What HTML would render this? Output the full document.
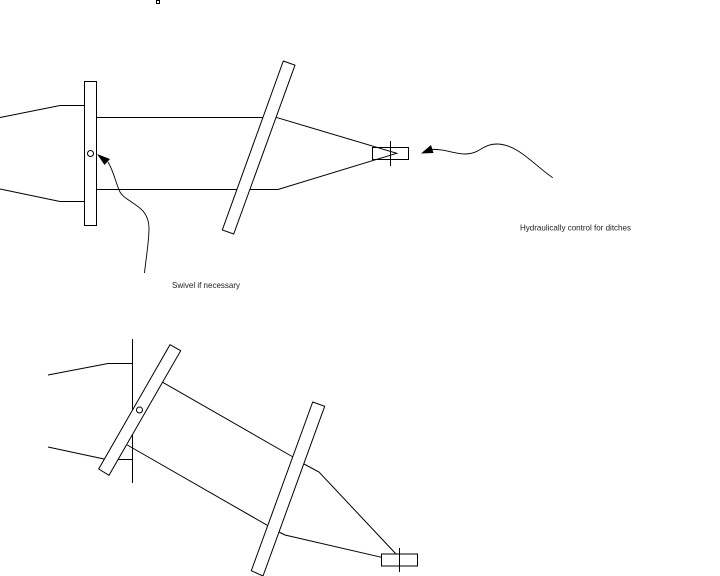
<!DOCTYPE html>
<html><head><meta charset="utf-8"><style>
html,body{margin:0;padding:0;background:#fff}
svg{display:block}
text{font-family:"Liberation Sans",sans-serif;font-size:8.5px;fill:#222}
</style></head><body>
<svg width="720" height="576" viewBox="0 0 720 576" xmlns="http://www.w3.org/2000/svg">
<g fill="none" stroke="#000" stroke-width="1">
<rect x="156.5" y="0.5" width="3" height="3"/>
<!-- top diagram -->
<path d="M0 117.5L60 105.5H84.5M0 189L60 201.5H84.5"/>
<path d="M96.5 117.5H264M96.5 189.5H278L396.7 153.3L276 117.3"/>
<rect x="84.5" y="81.5" width="12" height="144" fill="#fff"/>
<circle cx="90.5" cy="153.5" r="3"/>
<path fill="#fff" d="M283.3 61L295 65.2L233.7 234L222.3 230Z"/>
<rect x="372.5" y="147.5" width="36" height="12"/>
<path d="M390.5 141V166"/>
<path stroke-width="0.9" d="M144.5 273C146 258 149 242 149 228C149 205 126 203 120 192C116 184 114 172 108 162"/>
<path stroke-width="0.9" d="M552.7 177.7C535 166 518 144 496.7 144C483 144 479 154 466 154C453 154 446 148.5 428 149.5"/>
<!-- bottom diagram -->
<path d="M132.5 339V483M48 375L108 363.5H132.5M48 447L104 459M118 459.5H132.5"/>
<path d="M162.7 382.3L293 457M127.3 445L267.3 525.3"/>
<path d="M304 464L319 472L396 554M279 532L285 535L381.5 557.3"/>
<path fill="#fff" d="M170 344.7L180.7 350.7L109 475.3L98.7 469Z"/>
<circle cx="139.5" cy="410" r="3"/>
<path fill="#fff" d="M312.7 402L324.7 406.3L263 576L251.3 570.7Z"/>
<rect x="381.5" y="554" width="36" height="12"/>
<path d="M399.5 548V572"/>
</g>
<path fill="#000" d="M97 154L110 159L104.5 165Z"/>
<path fill="#000" d="M421 153.5L431 145L433.5 153Z"/>
<text x="520" y="230.5" textLength="111" lengthAdjust="spacingAndGlyphs">Hydraulically control for ditches</text>
<text x="172" y="288" textLength="68" lengthAdjust="spacingAndGlyphs">Swivel if necessary</text>
</svg>
</body></html>
